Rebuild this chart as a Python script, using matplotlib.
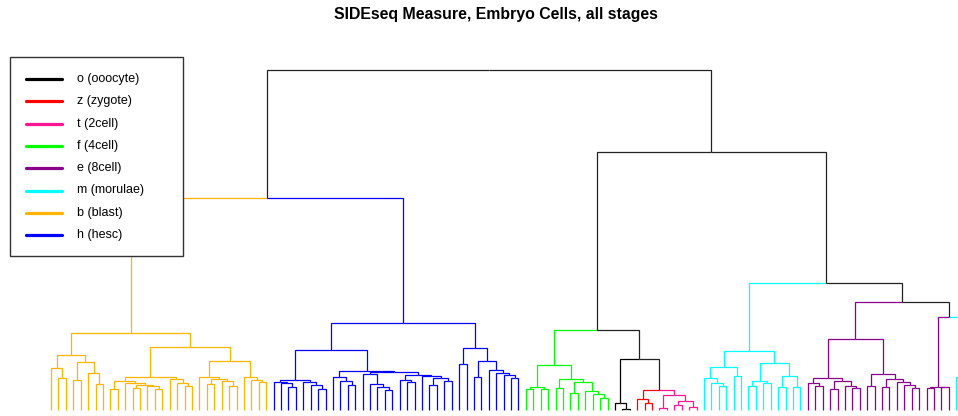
import matplotlib
matplotlib.use("Agg")
import matplotlib.pyplot as plt
from matplotlib.patches import Rectangle
from matplotlib.lines import Line2D

# ---------------- data ----------------
title = "SIDEseq Measure, Embryo Cells, all stages"
group_codes = ['o', 'z', 't', 'f', 'e', 'm', 'b', 'h']
group_labels = ['o (ooocyte)', 'z (zygote)', 't (2cell)', 'f (4cell)',
                'e (8cell)', 'm (morulae)', 'b (blast)', 'h (hesc)']
group_colors = ['#000000', '#FF0000', '#FF1493', '#00FF00',
                '#8B008B', '#00FFFF', '#FFB400', '#0000FF']

# clusters: [merge height, left, right]; leaves are stage codes
blast_tree = [77.3,
              [55.3, [42, 'b', [32.3, 'b', 'b']],
                     [48, [30, 'b', 'b'], [37, 'b', [26, 'b', 'b']]]],
              [63,
               [33.3, [29, [21, 'b', 'b'],
                           [27, 'b', [25, [21.7, 'b', 'b'], [24, 'b', [21, 'b', 'b']]]]],
                      [30.7, 'b', [27, 'b', [24, 'b', 'b']]]],
               [49.3, [32.7, 'b', [30.7, [26, 'b', 'b'], [29, 'b', [24, 'b', 'b']]]],
                      [33.3, 'b', [30, 'b', [27.7, 'b', 'b']]]]]]
hesc_tree = [86.7,
             [60,
              [30, [27.7, 'h', [26.7, 'h', [23.3, 'h', 'h']]],
                   [27.7, 'h', [25, 'h', [21, 'h', 'h']]]],
              [39.3,
               [33.3, 'h', [29, 'h', [25, 'h', 'h']]],
               [38.3,
                [36, 'h', [26, 'h', [23, 'h', [20, 'h', 'h']]]],
                [35.5, [30, 'h', [28, 'h', 'h']],
                       [34, 'h', [32, [25, 'h', 'h'], [29, 'h', 'h']]]]]]],
             [62, [46, 'h', 'h'],
                  [49.3, [33.3, 'h', 'h'],
                         [40, 'h', [36.7, 'h', [35, 'h', [32, 'h', 'h']]]]]]]
fourcell_tree = [45, [22.7, [20.7, 'f', 'f'], [20.7, 'f', 'f']],
                     [31, [21.7, 'f', 'f'],
                          [27.7, [17.3, 'f', 'f'],
                                 [19.3, 'f', [16, 'f', [12, 'f', 'f']]]]]]
oocyte_tree = [6.7, 'o', [0.7, 'o', 'o']]
zygote_tree = [10.7, 'z', [6.7, 'z', 'z']]
twocell_tree = [15, [2.3, 't', 't'], [9, [5, 't', 't'], [3.3, 't', 't']]]
morula_tree = [59.3,
               [43.3, [31.7, 'm', [26.7, 'm', [24, 'm', 'm']]], [34.3, 'm', 'm']],
               [46.7, [29, [24, 'm', 'm'], [27, 'm', 'm']],
                      [34.3, [22.7, 'm', 'm'], [23.3, 'm', 'm']]]]
eightcell_tree = [70.7,
                  [31.7, [26.7, 'e', [24.3, 'e', 'e']],
                         [29, [21, 'e', 'e'], [24.3, 'e', [22.3, 'e', 'e']]]],
                  [36, [24, 'e', 'e'],
                       [31.3, [23.3, 'e', 'e'],
                              [28, 'e', [25, 'e', [22, 'e', 'e']]]]]]
eightcell_small = [23.3, [22, 'e', 'e'], [23, 'e', 'e']]
morula_small = [33.3, 'm', 'm']

full_tree = [340,
             [212, blast_tree, hesc_tree],
             [258,
              [80, fourcell_tree, [50.7, oocyte_tree, [20, zygote_tree, twocell_tree]]],
              [127.3, morula_tree,
                      [108, eightcell_tree, [93.3, eightcell_small, morula_small]]]]]

# ---------------- plotting ----------------
color_of = dict(zip(group_codes, group_colors))

fig = plt.figure(figsize=(9.58, 4.16), dpi=100)
ax = fig.add_axes([0, 0, 1, 1])
ax.axis('off')

counter = [0]


def draw(node):
    if isinstance(node, str):
        x = counter[0]
        counter[0] += 1
        return x, 0.0, {node}
    h, left, right = node
    kids = [draw(left), draw(right)]
    xn = (kids[0][0] + kids[1][0]) / 2.0
    groups = kids[0][2] | kids[1][2]
    for xc, hc, gc in kids:
        col = color_of[next(iter(gc))] if len(gc) == 1 else '#222222'
        ax.plot([xn, xc, xc], [h, h, hc], color=col, lw=0.9,
                solid_joinstyle='miter', solid_capstyle='butt')
    return xn, h, groups


draw(full_tree)

# pixel mapping: leaf i at x = 51 + 7.42*i px ; height h at y = 410 - h px
ax.set_xlim(-51 / 7.42, (958 - 51) / 7.42)
ax.set_ylim(-6, 410)

W, H = 958.0, 416.0


def fx(px):
    return px / W


def fy(py):
    return 1 - py / H


fig.text(fx(495.5), fy(15), title, ha='center', va='center',
         fontsize=11.4, fontweight='bold', family='Liberation Sans')

# legend box
fig.add_artist(Rectangle((fx(10), fy(256)), fx(183) - fx(10), fy(57) - fy(256),
                         transform=fig.transFigure, facecolor='white',
                         edgecolor='#333333', lw=1.0, zorder=5))
row0, pitch = 79, 22.3
for k, (lab, col) in enumerate(zip(group_labels, group_colors)):
    yy = row0 + k * pitch
    fig.add_artist(Line2D([fx(26), fx(62)], [fy(yy), fy(yy)], color=col, lw=2.3,
                          transform=fig.transFigure, zorder=6,
                          solid_capstyle='round'))
    fig.text(fx(77), fy(yy), lab, ha='left', va='center', fontsize=9,
             family='Liberation Sans', zorder=7)

fig.savefig('out.png', dpi=100)
